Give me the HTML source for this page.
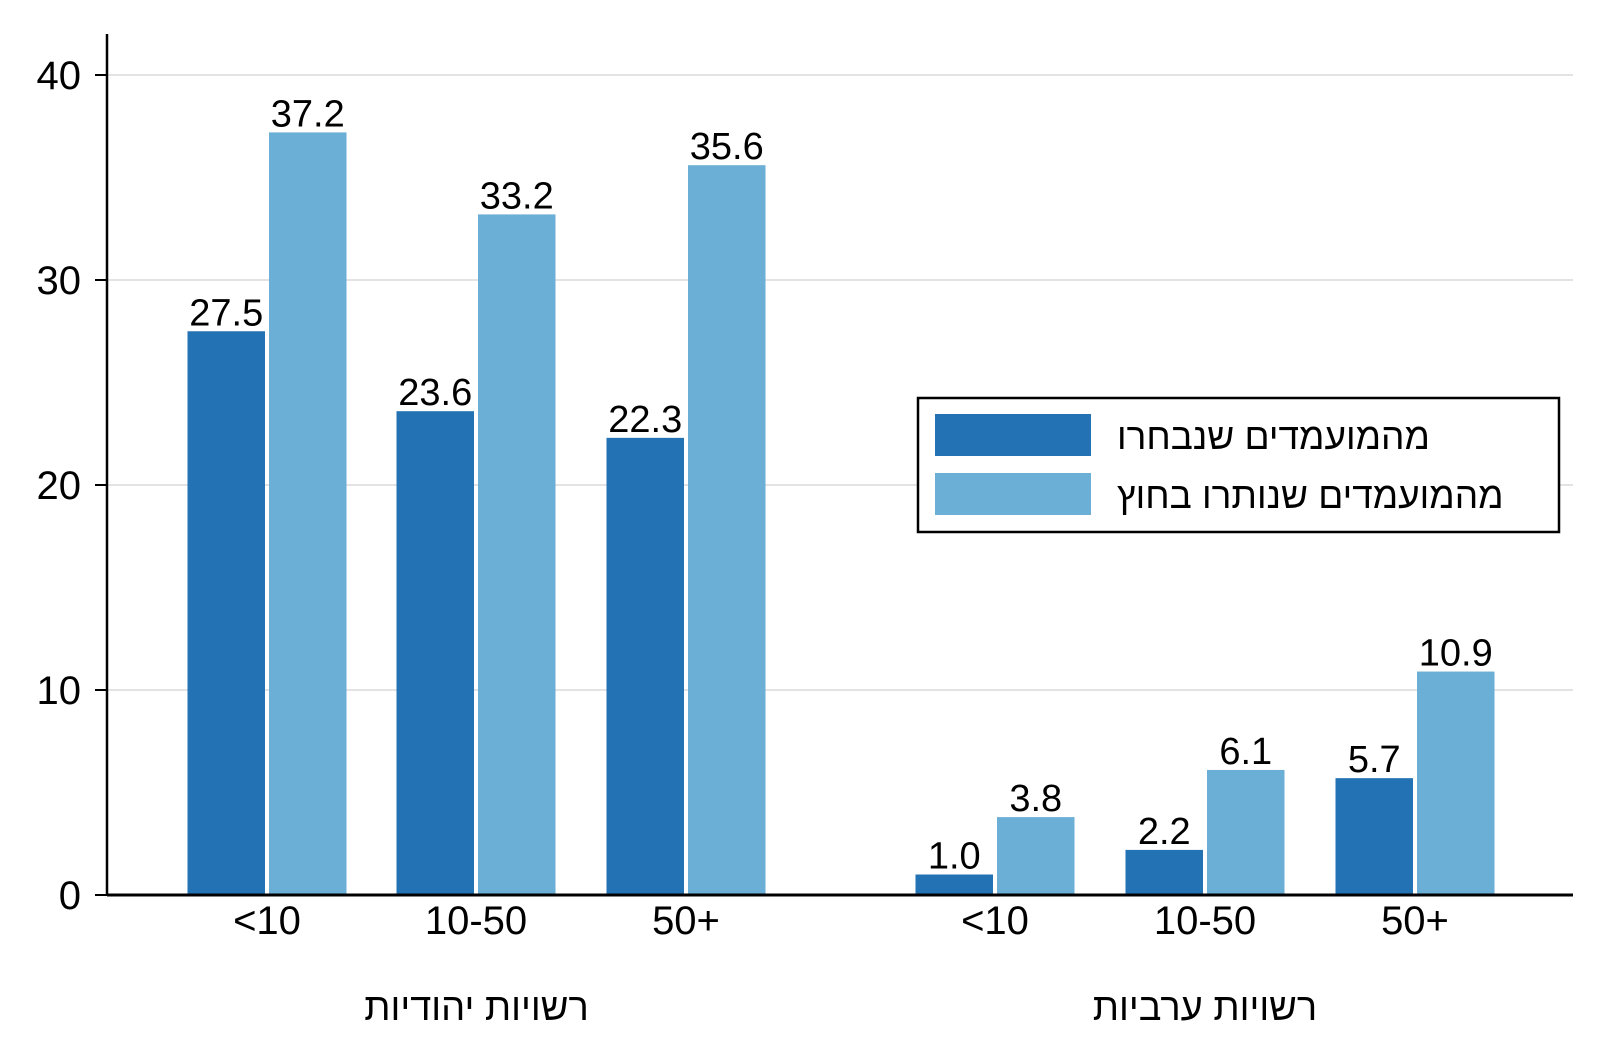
<!DOCTYPE html>
<html><head><meta charset="utf-8"><style>
body{margin:0;background:#fff}
svg text{font-family:"Liberation Sans",Arial,sans-serif;fill:#000}
</style></head><body>
<svg id="chart" width="1617" height="1046" viewBox="0 0 1617 1046" xmlns="http://www.w3.org/2000/svg">
<g id="grid"></g><g id="bars"></g><g id="axes"></g><g id="labels"></g>
<g>
<rect x="918" y="398" width="641" height="134" fill="#fff" stroke="#000" stroke-width="2.5"/>
<rect x="935" y="414" width="156" height="42" fill="#2372b4"/>
<rect x="935" y="473" width="156" height="42" fill="#6baed6"/>
<text x="1117" y="449" font-size="37" style="direction:ltr">מהמועמדים שנבחרו</text>
<text x="1117" y="508" font-size="37" style="direction:ltr">מהמועמדים שנותרו בחוץ</text>
</g>
</svg>
<script>
const categories = ["<10","10-50","50+","<10","10-50","50+"];
const groups = ["רשויות יהודיות","רשויות ערביות"];
const elected = [27.5,23.6,22.3,1.0,2.2,5.7];
const notElected = [37.2,33.2,35.6,3.8,6.1,10.9];
const yTicks = [0,10,20,30,40];

const NS="http://www.w3.org/2000/svg";
const x0=107, x1=1573, yZero=895, pxPerUnit=20.5;
const y=v=>yZero-v*pxPerUnit;
const centers=[267,476,686,995,1205,1415];
const bw=77.5, gap=4;
function mk(tag,attrs,parent,text){const e=document.createElementNS(NS,tag);for(const k in attrs)e.setAttribute(k,attrs[k]);if(text!==undefined)e.textContent=text;document.getElementById(parent).appendChild(e);return e;}

yTicks.forEach(t=>{
  if(t>0){const g=mk('line',{x1:x0,x2:x1,y1:y(t),y2:y(t),stroke:'#e3e3e3','stroke-width':2},'grid');
  
  }
  const tk=mk('line',{x1:x0-12,x2:x0,y1:y(t),y2:y(t),stroke:'#000','stroke-width':2},'axes');
  
  
  const tl=mk('text',{x:x0-26,y:y(t)+14,'font-size':40,'text-anchor':'end'},'labels',String(t));
  
  
});
categories.forEach((c,i)=>{
  const cx=centers[i];
  [[elected[i],'#2372b4',cx-gap/2-bw,'elected'],[notElected[i],'#6baed6',cx+gap/2,'not-elected']].forEach(([v,col,bx,s])=>{
    const r=mk('rect',{x:bx,y:y(v),width:bw,height:v*pxPerUnit,fill:col},'bars');
    
    
    const t=mk('text',{x:bx+bw/2,y:y(v)-6,'font-size':38,'text-anchor':'middle'},'labels',v.toFixed(1));
    
    
  });
  const cl=mk('text',{x:cx,y:934,'font-size':40,'text-anchor':'middle'},'labels',c);
  
  
});
groups.forEach((g,i)=>{
  const cx=(centers[i*3]+centers[i*3+2])/2;
  const gl=mk('text',{x:cx,y:1020,'font-size':38,'text-anchor':'middle'},'labels',g);
  
  
});
const ya=mk('line',{x1:x0,x2:x0,y1:34,y2:yZero+1,stroke:'#000','stroke-width':2.5},'axes');


const xa=mk('line',{x1:x0,x2:x1,y1:yZero,y2:yZero,stroke:'#000','stroke-width':3},'axes');


</script>
</body></html>
